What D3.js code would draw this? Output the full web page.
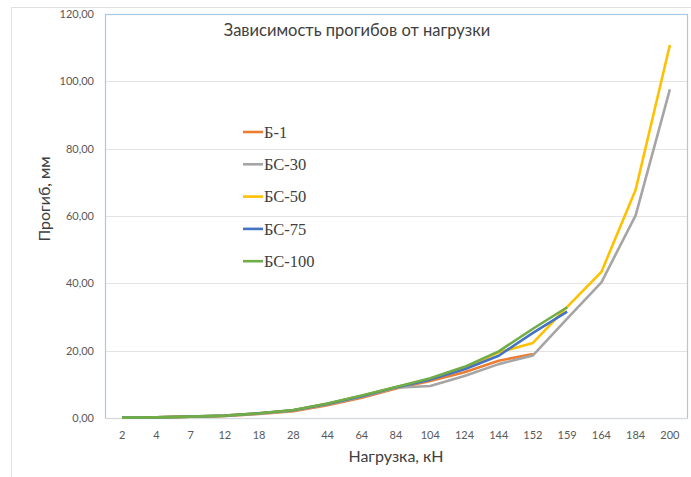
<!DOCTYPE html>
<html>
<head>
<meta charset="utf-8">
<script src="https://cdn.jsdelivr.net/npm/d3@7"></script>
<style>
  body { margin: 0; background: #fff; }
  svg { display: block; }
</style>
</head>
<body>
<div id="chart"></div>
<script>
// categories (load, kN)
const loads = ['2', '4', '7', '12', '18', '28', '44', '64', '84', '104', '124', '144', '152', '159', '164', '184', '200'];
const yTicks = [0, 20, 40, 60, 80, 100, 120];

// deflection, mm
const b1    = [0.1, 0.2, 0.4, 0.6, 1.2, 2.0, 3.8, 6.0, 8.8, 11.0, 13.6, 17.0, 19.0];
const bs30  = [0.1, 0.2, 0.4, 0.6, 1.3, 2.2, 4.0, 6.3, 9.0, 9.5, 12.5, 16.0, 18.6, 29.5, 40.3, 60.2, 97.6];
const bs50  = [0.1, 0.2, 0.4, 0.7, 1.4, 2.3, 4.2, 6.6, 9.1, 11.5, 14.8, 19.5, 22.3, 33.0, 43.4, 67.8, 110.8];
const bs75  = [0.1, 0.2, 0.4, 0.7, 1.4, 2.3, 4.2, 6.5, 9.1, 11.4, 14.5, 18.5, 25.3, 31.6];
const bs100 = [0.1, 0.2, 0.4, 0.7, 1.4, 2.4, 4.3, 6.7, 9.2, 11.8, 15.2, 19.8, 26.5, 32.9];

const seriesNames = ['Б-1', 'БС-30', 'БС-50', 'БС-75', 'БС-100'];
const seriesValues = [b1, bs30, bs50, bs75, bs100];
const seriesColors = ['#ed7d31', '#a5a5a5', '#ffc000', '#4472c4', '#70ad47'];

const W = 691, H = 477;
const plot = { left: 105, top: 14, right: 687, bottom: 418 };

const svg = d3.select('#chart').append('svg')
  .attr('width', W)
  .attr('height', H);

// outer chart frame
svg.append('rect')
  .attr('x', 11.5).attr('y', 7.5)
  .attr('width', W).attr('height', H)
  .attr('fill', 'none')
  .attr('stroke', '#e0e0e0');

const x = d3.scaleBand().domain(loads).range([plot.left, plot.right]);
const y = d3.scaleLinear().domain([0, 120]).range([plot.bottom, plot.top]);

// gridlines
svg.append('g')
  .selectAll('line')
  .data(yTicks.filter(d => d > 0 && d < 120))
  .join('line')
  .attr('x1', plot.left).attr('x2', plot.right)
  .attr('y1', d => Math.round(y(d)) + 0.5)
  .attr('y2', d => Math.round(y(d)) + 0.5)
  .attr('stroke', '#e3e3e3');

// plot area border
svg.append('rect')
  .attr('x', plot.left + 0.5).attr('y', plot.top + 0.5)
  .attr('width', plot.right - plot.left).attr('height', plot.bottom - plot.top)
  .attr('fill', 'none')
  .attr('stroke', '#a9c9e8')
  .attr('stroke-width', 1.2);

// x axis line
svg.append('line')
  .attr('x1', plot.left).attr('x2', plot.right + 1)
  .attr('y1', plot.bottom + 0.5).attr('y2', plot.bottom + 0.5)
  .attr('stroke', '#d9d9d9');

// y tick labels
svg.append('g')
  .selectAll('text')
  .data(yTicks)
  .join('text')
  .attr('x', 94)
  .attr('y', d => y(d))
  .attr('dy', '0.35em')
  .attr('text-anchor', 'end')
  .attr('font-family', 'Lato, sans-serif')
  .attr('font-size', 11)
  .attr('fill', '#595959')
  .text(d => d3.format('.2f')(d).replace('.', ','));

// x tick labels
svg.append('g')
  .selectAll('text')
  .data(loads)
  .join('text')
  .attr('x', d => x(d) + x.bandwidth() / 2)
  .attr('y', 435)
  .attr('dy', '0.35em')
  .attr('text-anchor', 'middle')
  .attr('font-family', 'Lato, sans-serif')
  .attr('font-size', 11)
  .attr('fill', '#595959')
  .text(d => d);

// lines
const line = d3.line()
  .x((d, i) => x(loads[i]) + x.bandwidth() / 2)
  .y(d => y(d));

svg.append('g')
  .selectAll('path')
  .data(seriesValues)
  .join('path')
  .attr('d', d => line(d))
  .attr('fill', 'none')
  .attr('stroke', (d, i) => seriesColors[i])
  .attr('stroke-width', 2.6)
  .attr('stroke-linejoin', 'round');

// title
svg.append('text')
  .attr('x', 357).attr('y', 30)
  .attr('dy', '0.35em')
  .attr('text-anchor', 'middle')
  .attr('font-family', 'Lato, sans-serif')
  .attr('font-size', 16.5)
  .attr('fill', '#404040')
  .text('Зависимость прогибов от нагрузки');

// axis titles
svg.append('text')
  .attr('x', 396).attr('y', 456)
  .attr('dy', '0.35em')
  .attr('text-anchor', 'middle')
  .attr('font-family', 'Lato, sans-serif')
  .attr('font-size', 16)
  .attr('fill', '#404040')
  .text('Нагрузка, кН');

svg.append('text')
  .attr('transform', 'translate(44,199) rotate(-90)')
  .attr('dy', '0.35em')
  .attr('text-anchor', 'middle')
  .attr('font-family', 'Lato, sans-serif')
  .attr('font-size', 16)
  .attr('fill', '#404040')
  .text('Прогиб, мм');

// legend
const legend = svg.append('g')
  .selectAll('g')
  .data(seriesNames)
  .join('g')
  .attr('transform', (d, i) => `translate(243,${132 + i * 32.3})`);

legend.append('line')
  .attr('x1', 0).attr('x2', 20)
  .attr('stroke', (d, i) => seriesColors[i])
  .attr('stroke-width', 2.6);

legend.append('text')
  .attr('x', 21)
  .attr('dy', '0.35em')
  .attr('font-family', '"Liberation Serif", serif')
  .attr('font-size', 16.5)
  .attr('fill', '#404040')
  .text(d => d);
</script>
</body>
</html>
